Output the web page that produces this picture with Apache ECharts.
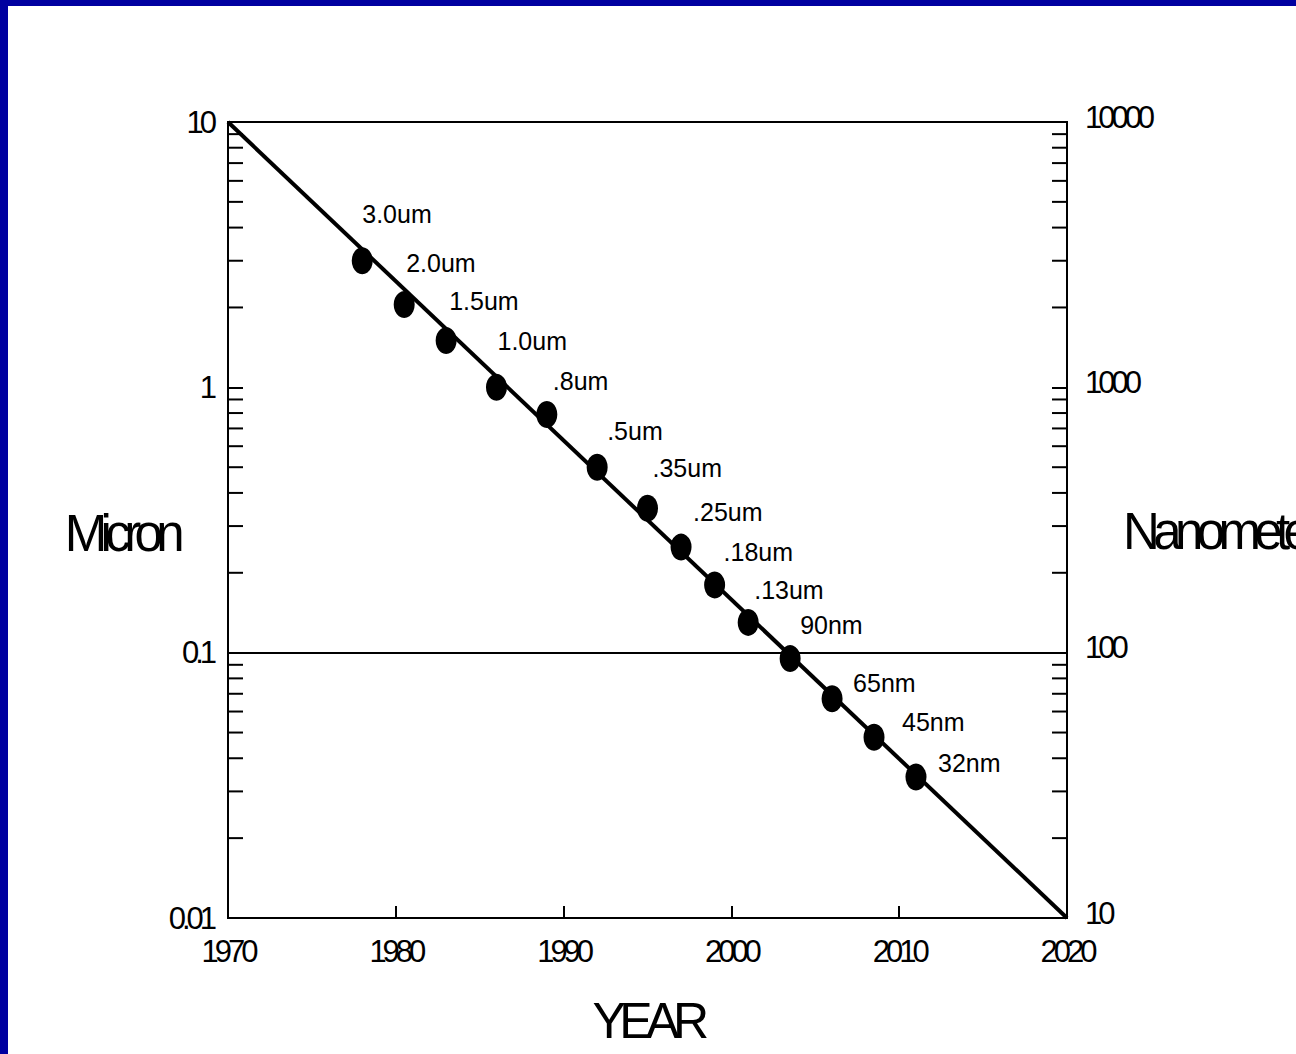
<!DOCTYPE html>
<html>
<head>
<meta charset="utf-8">
<script src="https://cdn.jsdelivr.net/npm/echarts@6/dist/echarts.min.js"></script>
<style>
html, body { margin: 0; padding: 0; background: #fff; }
#main {
    width: 1296px; height: 1054px; box-sizing: border-box;
    border-left: 8px solid #0000a0; border-top: 6px solid #0000a0;
}
/* axis texts in the original are set very tight */
#main text[style*="sans-serif"] { letter-spacing: -0.13em; }
</style>
</head>
<body>
<div id="main"></div>
<script>
// process nodes: year introduced, feature size (micron)
var nodeYears = [1978, 1980.5, 1983, 1986, 1989, 1992, 1995, 1997, 1999, 2001, 2003.5, 2006, 2008.5, 2011];
var nodeMicron = [3.0, 2.05, 1.5, 1.0, 0.79, 0.5, 0.35, 0.25, 0.18, 0.13, 0.095, 0.067, 0.048, 0.034];
var nodeNames = ['3.0um', '2.0um', '1.5um', '1.0um', '.8um', '.5um', '.35um', '.25um', '.18um', '.13um', '90nm', '65nm', '45nm', '32nm'];

// trend line end points
var trendYears = [1970, 2020];
var trendMicron = [10, 0.01];

// axis ranges
var yearMin = 1970, yearMax = 2020, yearStep = 10;
var micronMin = 0.01, micronMax = 10;
var nmMin = 10, nmMax = 10000;
var decades = [0.01, 0.1, 1];
var minorSteps = [2, 3, 4, 5, 6, 7, 8, 9];

// label nudges (pixels, from dot centre) - styling only
var labelNudge = [[0, -47], [2, -42], [3, -40], [1, -46], [6, -33], [10, -36], [5, -40],
    [12, -35], [9, -33], [6, -32], [10, -34], [21, -16], [28, -15], [22, -14]];

var AXISFONT = "'Liberation Sans', Arial, sans-serif";
var LABELFONT = "'Liberation Sans', Arial";

var minorTicks = [];
decades.forEach(function (d) {
    minorSteps.forEach(function (m) { minorTicks.push([yearMin, d * m]); });
});

var myChart = echarts.init(document.getElementById('main'), null, { renderer: 'svg' });
option = {
    animation: false,
    backgroundColor: '#fff',
    grid: {
        left: 220, top: 116, right: 229, bottom: 136,
        containLabel: false, outerBoundsMode: 'none',
        show: true, borderColor: '#000', borderWidth: 2
    },
    xAxis: {
        type: 'value',
        min: yearMin, max: yearMax, interval: yearStep,
        name: 'YEAR', nameLocation: 'middle', nameGap: 78, nameMoveOverlap: false,
        nameTextStyle: { fontSize: 50, fontFamily: AXISFONT, color: '#000' },
        axisLine: { lineStyle: { color: '#000', width: 2 } },
        axisTick: { inside: true, length: 12, lineStyle: { color: '#000', width: 2 } },
        axisLabel: {
            margin: 18, fontSize: 31, fontFamily: AXISFONT, color: '#000',
            formatter: function (v) { return String(v); }
        },
        splitLine: { show: false }
    },
    yAxis: [
        {
            type: 'log', logBase: 10,
            min: micronMin, max: micronMax,
            name: 'Micron', nameLocation: 'middle', nameRotate: 0, nameGap: 50, nameMoveOverlap: false,
            nameTextStyle: {
                fontSize: 51, fontFamily: AXISFONT, color: '#000',
                verticalAlign: 'top', lineHeight: 26
            },
            axisLine: { show: true, lineStyle: { color: '#000', width: 2 } },
            axisTick: { inside: true, length: 15, lineStyle: { color: '#000', width: 2 } },
            axisLabel: { margin: 15, fontSize: 31, fontFamily: AXISFONT, color: '#000' },
            splitLine: { show: false }
        },
        {
            type: 'log', logBase: 10,
            min: nmMin, max: nmMax, position: 'right',
            name: 'Nanometers', nameLocation: 'middle', nameRotate: 0, nameGap: 56, nameMoveOverlap: false,
            nameTextStyle: {
                fontSize: 51, fontFamily: AXISFONT, color: '#000',
                verticalAlign: 'top', lineHeight: 22
            },
            axisLine: { show: true, lineStyle: { color: '#000', width: 2 } },
            axisTick: { inside: true, length: 15, lineStyle: { color: '#000', width: 2 } },
            axisLabel: {
                margin: 18, fontSize: 31, fontFamily: AXISFONT, color: '#000',
                verticalAlign: 'bottom', lineHeight: 10,
                formatter: function (v) { return String(v); }
            },
            splitLine: { show: false }
        }
    ],
    series: [
        {
            // minor log ticks on both vertical axes
            type: 'custom',
            silent: true,
            data: minorTicks,
            renderItem: function (params, api) {
                var v = api.value(1);
                var l = api.coord([yearMin, v]);
                var r = api.coord([yearMax, v]);
                return {
                    type: 'group',
                    children: [
                        { type: 'line', shape: { x1: l[0], y1: l[1], x2: l[0] + 15, y2: l[1] }, style: { stroke: '#000', lineWidth: 2 } },
                        { type: 'line', shape: { x1: r[0] - 15, y1: r[1], x2: r[0], y2: r[1] }, style: { stroke: '#000', lineWidth: 2 } }
                    ]
                };
            }
        },
        {
            type: 'line',
            data: trendYears.map(function (y, i) { return [y, trendMicron[i]]; }),
            showSymbol: false,
            lineStyle: { color: '#000', width: 4 },
            z: 2,
            markLine: {
                silent: true,
                symbol: 'none',
                label: { show: false },
                lineStyle: { color: '#000', width: 2, type: 'solid' },
                data: [{ yAxis: 0.1 }]
            }
        },
        {
            type: 'scatter',
            symbol: 'circle',
            symbolSize: [21, 27],
            itemStyle: { color: '#000', opacity: 1 },
            z: 3,
            data: nodeYears.map(function (y, i) {
                return {
                    value: [y, nodeMicron[i]],
                    name: nodeNames[i],
                    label: { offset: labelNudge[i] }
                };
            }),
            label: {
                show: true,
                position: 'inside',
                align: 'left',
                verticalAlign: 'middle',
                formatter: '{b}',
                fontSize: 25,
                fontFamily: LABELFONT,
                color: '#000',
                opacity: 1
            }
        }
    ]
};
myChart.setOption(option);
</script>
</body>
</html>
